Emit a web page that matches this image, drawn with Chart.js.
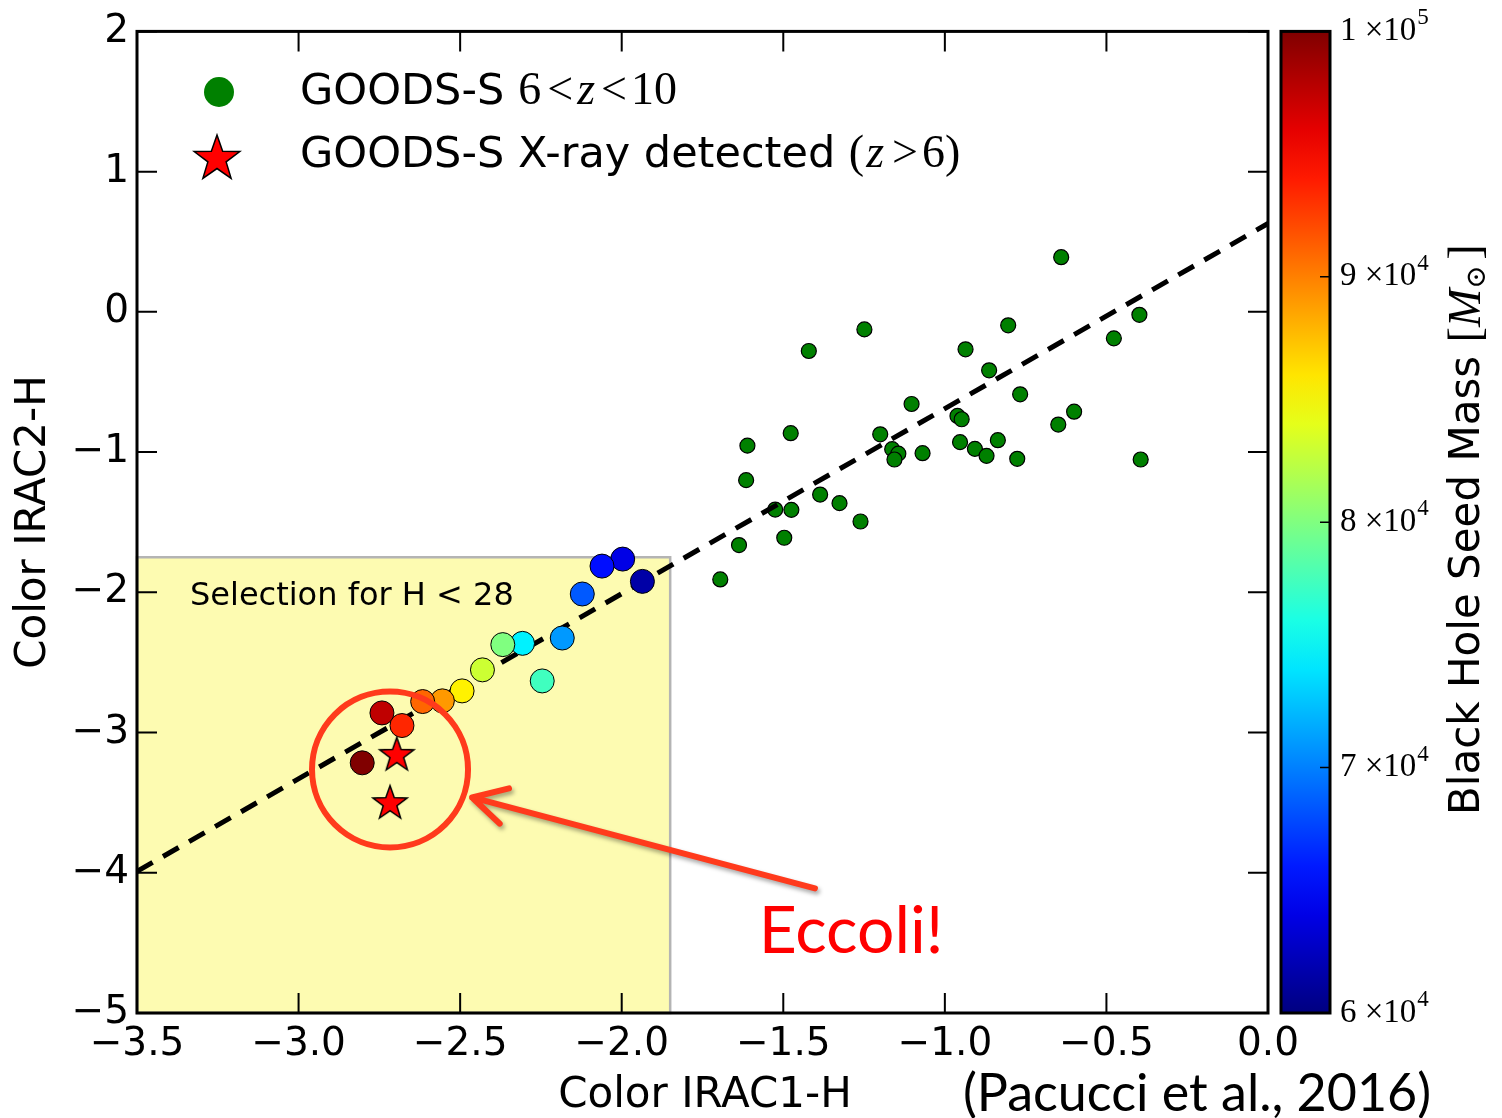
<!DOCTYPE html>
<html>
<head>
<meta charset="utf-8">
<script src="https://cdn.jsdelivr.net/npm/chart.js@4.4.0/dist/chart.umd.min.js"></script>
<style>
html,body{margin:0;padding:0;background:#fff;}
</style>
</head>
<body>
<canvas id="chart" width="1502" height="1118"></canvas>
<script>
// GOODS-S galaxies 6<z<10 (green)
const greenX = [-0.640, -1.249, -1.421, -0.804, -0.936, -0.398, -0.477, -0.863, -0.767, -1.103,
                -0.961, -0.948, -0.600, -0.649, -1.200, -1.163, -1.144, -1.156, -1.069, -0.953,
                -0.907, -0.871, -0.836, -0.776, -0.394, -1.611, -1.477, -1.615, -1.386, -1.326,
                -1.525, -1.475, -1.261, -1.497, -1.637, -1.695];
const greenY = [0.39, -0.125, -0.279, -0.096, -0.267, -0.021, -0.189, -0.417, -0.588, -0.657,
                -0.742, -0.766, -0.712, -0.804, -0.873, -0.979, -1.011, -1.053, -1.008, -0.929,
                -0.977, -1.027, -0.915, -1.048, -1.053, -0.954, -0.865, -1.200, -1.303, -1.364,
                -1.410, -1.412, -1.495, -1.611, -1.663, -1.908];

// seed models coloured by black hole seed mass
const seedX = [-1.936, -1.997, -2.061, -2.122, -2.184, -2.307, -2.368, -2.246, -2.431, -2.494,
               -2.555, -2.616, -2.742, -2.680, -2.803];
const seedY = [-1.922, -1.763, -1.813, -2.012, -2.326, -2.364, -2.373, -2.632, -2.553, -2.703,
               -2.774, -2.779, -2.860, -2.950, -3.216];
const seedMass = [6.15e4, 6.4e4, 6.55e4, 6.85e4, 7.1e4, 7.45e4, 8.0e4, 7.75e4, 8.3e4, 8.55e4,
                  8.9e4, 9.1e4, 9.75e4, 9.35e4, 1.0e5];

// X-ray detected sources
const xrayX = [-2.696, -2.717];
const xrayY = [-3.152, -3.496];

// dashed fit
const fitX = [-3.5, 0.0];
const fitY = [-3.99, 0.63];

// selection box H < 28
const selX = [-3.5, -1.85];
const selY = [-5, -1.75];

// colorbar
const cbMin = 6e4, cbMax = 1e5;
const cbTicks = [6e4, 7e4, 8e4, 9e4, 1e5];
const cbMant = ['6', '7', '8', '9', '1'];
const cbExp = ['4', '4', '4', '4', '5'];

const SANS = '"DejaVu Sans", sans-serif';
const CAL = 'Lato, "Open Sans", sans-serif';
const SERIF = '"Liberation Serif", "DejaVu Serif", serif';
const RED = '#ff3a1c';

function jet(t) {
    const c = v => Math.max(0, Math.min(1, v));
    const r = c(1.5 - Math.abs(4 * t - 3));
    const g = c(1.5 - Math.abs(4 * t - 2));
    const b = c(1.5 - Math.abs(4 * t - 1));
    return `rgb(${Math.round(r * 255)},${Math.round(g * 255)},${Math.round(b * 255)})`;
}
const seedColors = seedMass.map(m => jet((m - cbMin) / (cbMax - cbMin)));

function starCanvas(size) {
    const cv = document.createElement('canvas');
    cv.width = size; cv.height = size;
    const c = cv.getContext('2d');
    const R = size / 2 - 2, r = R * 0.4, cx = size / 2, cy = size / 2 + R * 0.08;
    c.beginPath();
    for (let i = 0; i < 10; i++) {
        const rad = i % 2 ? r : R;
        const ang = -Math.PI / 2 + i * Math.PI / 5;
        c.lineTo(cx + rad * Math.cos(ang), cy + rad * Math.sin(ang));
    }
    c.closePath();
    c.fillStyle = '#ff0000';
    c.fill();
    c.lineWidth = 1.5;
    c.strokeStyle = '#000';
    c.stroke();
    return cv;
}
const starImg = starCanvas(40);

// text runs: [text, font, dx]
function drawRuns(ctx, runs, x, y) {
    for (const [t, f, dx] of runs) {
        x += dx || 0;
        ctx.font = f;
        ctx.fillText(t, x, y);
        x += ctx.measureText(t).width;
    }
    return x;
}

const deco = {
    id: 'deco',
    beforeDatasetsDraw(chart) {
        const { ctx, scales: { x, y } } = chart;
        ctx.save();
        const x0 = x.getPixelForValue(selX[0]), x1 = x.getPixelForValue(selX[1]);
        const y0 = y.getPixelForValue(selY[1]), y1 = y.getPixelForValue(selY[0]);
        ctx.fillStyle = '#fdfbb1';
        ctx.fillRect(x0, y0, x1 - x0, y1 - y0);
        ctx.strokeStyle = '#b4b4b4';
        ctx.lineWidth = 2.5;
        ctx.strokeRect(x0, y0, x1 - x0, y1 - y0);
        ctx.fillStyle = '#000';
        ctx.font = '32px ' + SANS;
        ctx.textBaseline = 'middle';
        ctx.fillText('Selection for H < 28', x.getPixelForValue(-3.336), y.getPixelForValue(-2.03));
        ctx.restore();
    },
    afterDatasetsDraw(chart) {
        const { ctx, chartArea: a, scales: { x, y } } = chart;
        ctx.save();

        // annotation: circle, arrow, text
        ctx.strokeStyle = RED;
        ctx.lineWidth = 6;
        ctx.beginPath();
        ctx.arc(x.getPixelForValue(-2.717), y.getPixelForValue(-3.263), 78, 0, Math.PI * 2);
        ctx.stroke();
        const tx = x.getPixelForValue(-1.402), ty = y.getPixelForValue(-4.111);
        const hx = x.getPixelForValue(-2.463), hy = y.getPixelForValue(-3.463);
        ctx.save();
        ctx.shadowColor = 'rgba(0,0,0,0.35)';
        ctx.shadowBlur = 4;
        ctx.shadowOffsetX = 2;
        ctx.shadowOffsetY = 3;
        ctx.lineCap = 'round';
        ctx.lineJoin = 'round';
        ctx.beginPath();
        ctx.moveTo(tx, ty); ctx.lineTo(hx, hy);
        const ang = Math.atan2(ty - hy, tx - hx);
        ctx.moveTo(hx + 38 * Math.cos(ang - 0.5), hy + 38 * Math.sin(ang - 0.5));
        ctx.lineTo(hx, hy);
        ctx.lineTo(hx + 38 * Math.cos(ang + 0.5), hy + 38 * Math.sin(ang + 0.5));
        ctx.stroke();
        ctx.restore();
        ctx.fillStyle = '#ff0000';
        ctx.font = '66px ' + CAL;
        ctx.textAlign = 'center';
        ctx.textBaseline = 'middle';
        ctx.fillText('Eccoli!', x.getPixelForValue(-1.29), y.getPixelForValue(-4.42));

        // frame and inward ticks
        ctx.strokeStyle = '#000';
        ctx.lineCap = 'butt';
        ctx.lineWidth = 2;
        ctx.beginPath();
        x.ticks.forEach(t => {
            const px = x.getPixelForValue(t.value);
            ctx.moveTo(px, a.bottom); ctx.lineTo(px, a.bottom - 20);
            ctx.moveTo(px, a.top); ctx.lineTo(px, a.top + 20);
        });
        y.ticks.forEach(t => {
            const py = y.getPixelForValue(t.value);
            ctx.moveTo(a.left, py); ctx.lineTo(a.left + 20, py);
            ctx.moveTo(a.right, py); ctx.lineTo(a.right - 20, py);
        });
        ctx.stroke();
        ctx.lineWidth = 3;
        ctx.strokeRect(a.left, a.top, a.right - a.left, a.bottom - a.top);

        // legend
        ctx.textAlign = 'left';
        ctx.textBaseline = 'alphabetic';
        ctx.fillStyle = '#008000';
        ctx.beginPath();
        ctx.ellipse(219, 92, 15, 15, 0, 0, Math.PI * 2);
        ctx.fill();
        ctx.drawImage(starCanvas(52), 217 - 26, 157 - 26);
        ctx.fillStyle = '#000';
        drawRuns(ctx, [
            ['GOODS-S', '43px ' + SANS],
            ['6', '46px ' + SERIF, 14],
            ['<', '46px ' + SERIF, 6],
            ['z', 'italic 46px ' + SERIF, 4],
            ['<', '46px ' + SERIF, 6],
            ['10', '46px ' + SERIF, 4]
        ], 300, 104);
        drawRuns(ctx, [
            ['GOODS-S X-ray detected ', '43px ' + SANS],
            ['(', '46px ' + SERIF],
            ['z', 'italic 46px ' + SERIF, 2],
            ['>', '46px ' + SERIF, 8],
            ['6', '46px ' + SERIF, 4],
            [')', '46px ' + SERIF]
        ], 300, 167);

        // axis titles
        ctx.font = '42px ' + SANS;
        ctx.textAlign = 'center';
        ctx.textBaseline = 'middle';
        ctx.fillText('Color IRAC1-H', 705, 1096);
        ctx.font = '52px ' + CAL;
        ctx.fillText('(Pacucci et al., 2016)', 1197, 1094);
        ctx.save();
        ctx.translate(34, 522);
        ctx.rotate(-Math.PI / 2);
        ctx.font = '42px ' + SANS;
        ctx.fillText('Color IRAC2-H', 0, 0);
        ctx.restore();

        // colorbar
        const cbL = 1281, cbR = 1330;
        const cbPix = v => a.bottom - (v - cbMin) / (cbMax - cbMin) * (a.bottom - a.top);
        const grad = ctx.createLinearGradient(0, a.bottom, 0, a.top);
        for (let i = 0; i <= 20; i++) grad.addColorStop(i / 20, jet(i / 20));
        ctx.fillStyle = grad;
        ctx.fillRect(cbL, a.top, cbR - cbL, a.bottom - a.top);
        ctx.lineWidth = 3;
        ctx.strokeStyle = '#000';
        ctx.strokeRect(cbL, a.top, cbR - cbL, a.bottom - a.top);
        ctx.lineWidth = 1.5;
        ctx.beginPath();
        cbTicks.forEach(v => {
            const py = cbPix(v);
            ctx.moveTo(cbR, py); ctx.lineTo(cbR - 10, py);
        });
        ctx.stroke();
        ctx.fillStyle = '#000';
        ctx.textAlign = 'left';
        ctx.textBaseline = 'middle';
        cbTicks.forEach((v, i) => {
            const py = cbPix(v);
            const ex = drawRuns(ctx, [
                [cbMant[i], '33px ' + SERIF],
                [' ×10', '33px ' + SERIF]
            ], 1340, py);
            ctx.font = '23px ' + SERIF;
            ctx.fillText(cbExp[i], ex + 1, py - 13);
        });
        ctx.save();
        ctx.translate(1468, 815);
        ctx.rotate(-Math.PI / 2);
        ctx.textBaseline = 'middle';
        const ex = drawRuns(ctx, [
            ['Black Hole Seed Mass ', '42px ' + SANS],
            ['[', '46px ' + SERIF],
            ['M', 'italic 46px ' + SERIF]
        ], 0, 0);
        ctx.font = '28px ' + SERIF;
        ctx.fillText('⊙', ex, 10);
        ctx.font = '46px ' + SERIF;
        ctx.fillText(']', ex + ctx.measureText('⊙').width * 0.6 + 6, 0);
        ctx.restore();

        ctx.restore();
    }
};

const fmt = v => {
    const s = Number(v);
    return s < 0 ? '\u2212' + Math.abs(s) : String(s);
};

new Chart(document.getElementById('chart'), {
    type: 'scatter',
    data: {
        datasets: [
            {
                data: greenX.map((v, i) => ({ x: v, y: greenY[i] })),
                backgroundColor: '#008000',
                borderColor: '#000',
                borderWidth: 1.2,
                pointRadius: 7.5,
                order: 3
            },
            {
                type: 'line',
                data: fitX.map((v, i) => ({ x: v, y: fitY[i] })),
                borderColor: '#000',
                borderWidth: 5,
                borderDash: [18, 12],
                pointRadius: 0,
                fill: false,
                order: 2
            },
            {
                data: seedX.map((v, i) => ({ x: v, y: seedY[i] })),
                backgroundColor: seedColors,
                borderColor: '#000',
                borderWidth: 1,
                pointRadius: 12,
                order: 1
            },
            {
                data: xrayX.map((v, i) => ({ x: v, y: xrayY[i] })),
                pointStyle: starImg,
                pointRadius: 20,
                order: 0
            }
        ]
    },
    options: {
        responsive: false,
        animation: false,
        events: [],
        layout: { padding: { left: 0, right: 234, top: 30, bottom: 0 } },
        plugins: { legend: { display: false }, tooltip: { enabled: false } },
        scales: {
            x: {
                type: 'linear', min: -3.5, max: 0,
                grid: { display: false, drawTicks: false },
                border: { display: false },
                afterFit: s => { s.height = 105; },
                ticks: {
                    stepSize: 0.5, autoSkip: false, maxRotation: 0, padding: 8,
                    color: '#000', font: { family: SANS, size: 39 },
                    callback: v => (v < 0 ? '\u2212' : '') + Math.abs(v).toFixed(1)
                }
            },
            y: {
                type: 'linear', min: -5, max: 2,
                grid: { display: false, drawTicks: false },
                border: { display: false },
                afterFit: s => { s.width = 137; },
                ticks: {
                    stepSize: 1, autoSkip: false, padding: 8,
                    color: '#000', font: { family: SANS, size: 39 },
                    callback: fmt
                }
            }
        }
    },
    plugins: [deco]
});
</script>
</body>
</html>
